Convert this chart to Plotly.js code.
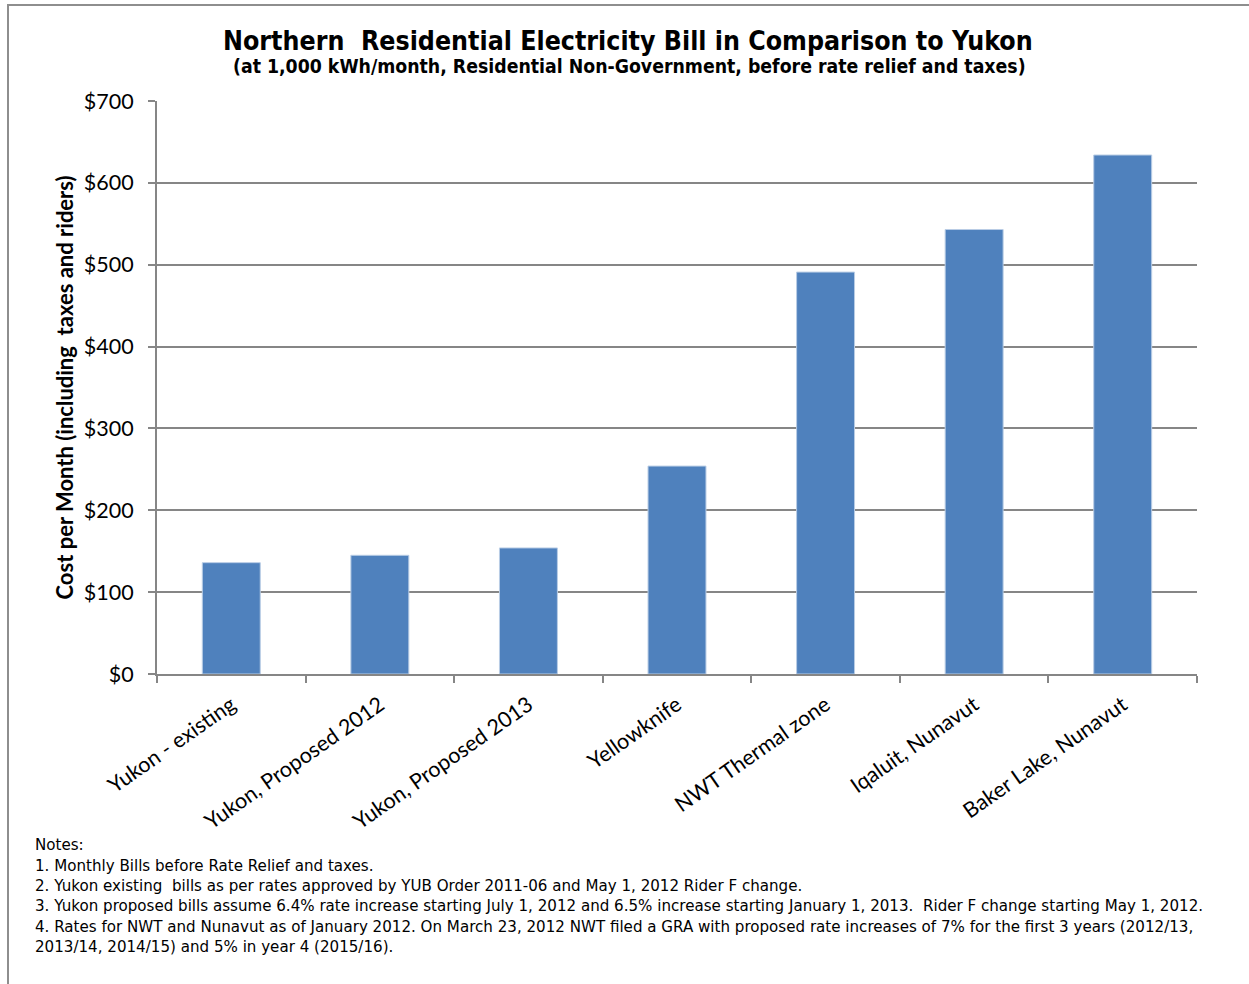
<!DOCTYPE html>
<html>
<head>
<meta charset="utf-8">
<script src="https://cdn.plot.ly/plotly-3.0.1.min.js"></script>
<style>
  html, body { margin: 0; padding: 0; background: #ffffff; }
  #chart { position: absolute; left: 0; top: 0; width: 1249px; height: 984px; }
  #frame {
    position: absolute; left: 7px; top: 4px; width: 1260px; height: 1000px;
    border-left: 2px solid #8e8e8e; border-top: 2px solid #8e8e8e;
    pointer-events: none;
  }
</style>
</head>
<body>
<div id="chart"></div>
<div id="frame"></div>
<script>
// Monthly bill at 1,000 kWh for each northern location
const locations = [
  "Yukon - existing",
  "Yukon, Proposed 2012",
  "Yukon, Proposed 2013",
  "Yellowknife",
  "NWT Thermal zone",
  "Iqaluit, Nunavut",
  "Baker Lake, Nunavut"
];
const monthlyCost = [136, 145, 154, 254, 491, 543, 634];

const chartTitle = "Northern\u00a0 Residential Electricity Bill in Comparison to Yukon";
const chartSubtitle = "(at 1,000 kWh/month, Residential Non-Government, before rate relief and taxes)";
const yTitle = "Cost per Month (including\u00a0 taxes and riders)";

const notes = [
  "Notes:",
  "1. Monthly Bills before Rate Relief and taxes.",
  "2. Yukon existing\u00a0 bills as per rates approved by YUB Order 2011-06 and May 1, 2012 Rider F change.",
  "3. Yukon proposed bills assume 6.4% rate increase starting July 1, 2012 and 6.5% increase starting January 1, 2013.\u00a0 Rider F change starting May 1, 2012.",
  "4. Rates for NWT and Nunavut as of January 2012. On March 23, 2012 NWT filed a GRA with proposed rate increases of 7% for the first 3 years (2012/13,",
  "2013/14, 2014/15) and 5% in year 4 (2015/16)."
];

const W = 1249, H = 984;
const M = { l: 157, r: 52, t: 101, b: 310 };
const plotH = H - M.t - M.b;

// convert pixel offsets to paper coordinates for the annotations
const py = y => (H - M.b - y) / plotH;
const pxx = x => (x - M.l) / (W - M.l - M.r);

const annotations = [
  {
    text: "<b>" + chartTitle + "</b>",
    xref: "paper", yref: "paper", x: pxx(628), y: py(41),
    xanchor: "center", yanchor: "middle", showarrow: false,
    font: { family: "DejaVu Sans Condensed, DejaVu Sans", size: 26.5, color: "#000000" }
  },
  {
    text: "<b>" + chartSubtitle + "</b>",
    xref: "paper", yref: "paper", x: pxx(629), y: py(67),
    xanchor: "center", yanchor: "middle", showarrow: false,
    font: { family: "DejaVu Sans Condensed, DejaVu Sans", size: 19.3, color: "#000000" }
  }
];

const noteY = [845, 866, 886, 906, 927, 947];
notes.forEach((line, i) => {
  annotations.push({
    text: line,
    xref: "paper", yref: "paper", x: pxx(33), y: py(noteY[i]),
    xanchor: "left", yanchor: "middle", showarrow: false,
    font: { family: "DejaVu Sans", size: 15.1, color: "#000000" }
  });
});

const trace = {
  type: "bar",
  x: locations,
  y: monthlyCost,
  width: 0.39,
  marker: { color: "#4f81bd", line: { color: "#b9cde5", width: 1 } },
  hoverinfo: "x+y"
};

const layout = {
  width: W, height: H,
  margin: M,
  paper_bgcolor: "rgba(0,0,0,0)",
  plot_bgcolor: "rgba(0,0,0,0)",
  showlegend: false,
  bargap: 0.61,
  xaxis: {
    type: "category",
    tickson: "boundaries",
    ticks: "outside", ticklen: 7, tickwidth: 2, tickcolor: "#868686",
    showline: true, linecolor: "#868686", linewidth: 2,
    showgrid: false,
    tickangle: -35,
    ticklabelstandoff: 8,
    tickfont: { family: "Lato, Open Sans", size: 21.5, color: "#000000" }
  },
  yaxis: {
    range: [0, 700], dtick: 100, tick0: 0,
    tickprefix: "$",
    ticks: "outside", ticklen: 7, tickwidth: 2, tickcolor: "#868686",
    showline: true, linecolor: "#868686", linewidth: 2,
    showgrid: true, gridcolor: "#868686", gridwidth: 2,
    zeroline: false,
    ticklabelstandoff: 10,
    tickfont: { family: "Lato, Open Sans", size: 21.5, color: "#000000" },
    title: {
      text: "<b>" + yTitle + "</b>",
      font: { family: "Lato, Open Sans", size: 22, color: "#000000" },
      standoff: 4
    }
  },
  annotations: annotations
};

Plotly.newPlot("chart", [trace], layout, { staticPlot: true, displayModeBar: false });
</script>
</body>
</html>
